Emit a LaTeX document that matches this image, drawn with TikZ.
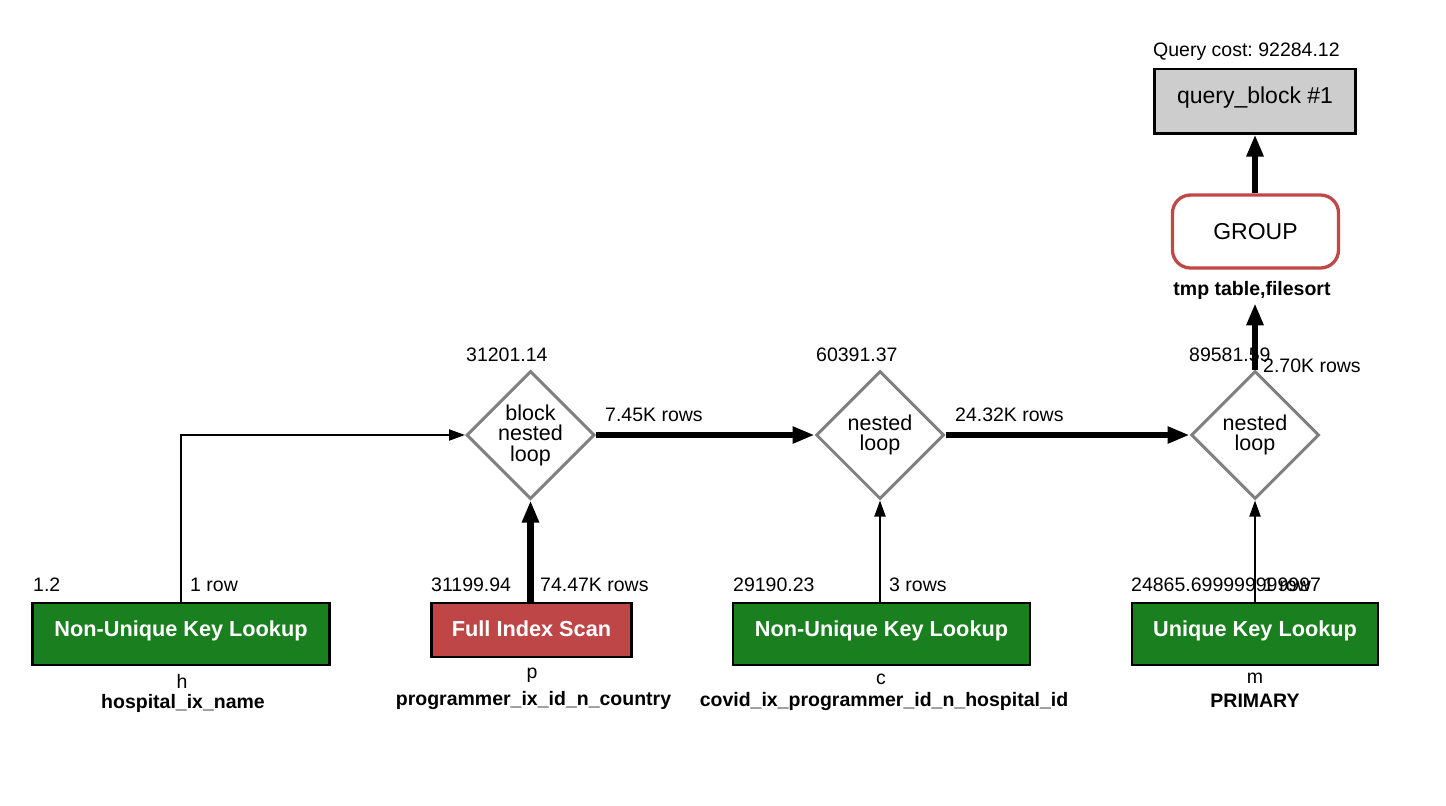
\documentclass[tikz,border=0pt]{standalone}
\usepackage{fontspec}
\setmainfont{Liberation Sans}
\usetikzlibrary{arrows.meta,shapes.geometric}
\frenchspacing

\definecolor{lookupgreen}{RGB}{26,127,31}
\definecolor{scanred}{RGB}{190,70,70}
\definecolor{groupred}{RGB}{192,72,72}
\definecolor{loopgray}{RGB}{128,128,128}
\definecolor{blockgray}{RGB}{205,205,205}

\begin{document}
\begin{tikzpicture}[x=1pt,y=-1pt,
  lbl/.style={font=\fontsize{19.5}{23}\selectfont, inner sep=0pt, anchor=base west},
  lblc/.style={font=\fontsize{19.5}{23}\selectfont, inner sep=0pt, anchor=base},
  lblb/.style={lblc, font=\fontsize{19.5}{23}\selectfont\bfseries},
  access/.style={draw=black, line width=2.5pt, text=white,
    font=\fontsize{21.7}{26}\selectfont\bfseries, text height=14pt, text depth=10pt},
  greenbox/.style={access, fill=lookupgreen, minimum width=297pt, minimum height=62pt},
  redbox/.style={access, fill=scanred, minimum width=200pt, minimum height=54pt,
    text height=16pt, text depth=2.6pt},
  loopnode/.style={diamond, draw=loopgray, line width=3pt, minimum width=128pt,
    minimum height=128pt, inner sep=0pt, align=center,
    font=\fontsize{21.5}{20.5}\selectfont},
  thinarrow/.style={line width=2pt, -{Triangle[length=16pt,width=11pt]}},
  thickarrow/.style={line width=6.5pt, -{Triangle[length=22pt,width=16pt]}}
]
\useasboundingbox (0,0) rectangle (1446,806);

% result block and grouping step
\node[draw=black, line width=2.7pt, fill=blockgray, minimum width=200.6pt,
  minimum height=64.3pt, font=\fontsize{23}{27}\selectfont,
  text height=14pt, text depth=10pt] (qb) at (1255,101) {query\_block \#1};
\node[lbl] (qcost) at (1153,56) {Query cost: 92284.12};

\node[draw=groupred, line width=3.3pt, fill=white, rounded corners=18pt,
  minimum width=166pt, minimum height=73pt, font=\fontsize{23}{27}\selectfont,
  text height=16pt, text depth=0.4pt] (grp) at (1255.5,231.5) {GROUP};
\node[lblb] (grpnote) at (1252,295) {tmp table,filesort};

% join operations
\node[loopnode] (d1) at (530.5,435) {block\\nested\\loop};
\node[loopnode] (d2) at (880,435) {nested\\loop};
\node[loopnode] (d3) at (1255,435) {nested\\loop};

\node[lbl] (cost1) at (466,361) {31201.14};
\node[lbl] (cost2) at (816,361) {60391.37};
\node[lbl] (cost3) at (1189,361) {89581.59};

% table access operations
\node[greenbox] (h) at (181,634) {Non-Unique Key Lookup};
\node[redbox] (p) at (531.5,630) {Full Index Scan};
\node[greenbox] (c) at (881.5,634) {Non-Unique Key Lookup};
\node[greenbox, minimum width=246pt] (m) at (1255,634) {Unique Key Lookup};

\node[lbl] (hcost) at (33,591) {1.2};
\node[lbl] (hrows) at (190,591) {1 row};
\node[lbl] (pcost) at (431,591) {31199.94};
\node[lbl] (prows) at (540,591) {74.47K rows};
\node[lbl] (ccost) at (733,591) {29190.23};
\node[lbl] (crows) at (889,591) {3 rows};
\node[lbl] (mcost) at (1131,591) {24865.699999999997};
\node[lbl] (mrows) at (1263,591) {1 row};

\node[lblc] (htab) at (182,688) {h};
\node[lblb] (hkey) at (183,708) {hospital\_ix\_name};
\node[lblc] (ptab) at (532,678) {p};
\node[lblb] (pkey) at (533.5,705) {programmer\_ix\_id\_n\_country};
\node[lblc] (ctab) at (881,684) {c};
\node[lblb] (ckey) at (884,706) {covid\_ix\_programmer\_id\_n\_hospital\_id};
\node[lblc] (mtab) at (1255,683) {m};
\node[lblb] (mkey) at (1255,707) {PRIMARY};

% row flow
\draw[thinarrow] (h.north) |- (d1.west);
\draw[thickarrow] (d1.south |- p.north) -- (d1.south);
\draw[thickarrow] (d1.east) -- (d2.west);
\draw[thinarrow] (d2.south |- c.north) -- (d2.south);
\draw[thickarrow] (d2.east) -- (d3.west);
\draw[thinarrow] (m.north) -- (d3.south);
\draw[thickarrow] (d3.north) -- ([yshift=-4pt]d3.north |- grpnote.south);
\draw[thickarrow] (grp.north -| qb.south) -- (qb.south);

\node[lbl] (rows1) at (605,421) {7.45K rows};
\node[lbl] (rows2) at (955,421) {24.32K rows};
\node[lbl] (rows3) at (1263,372) {2.70K rows};
\end{tikzpicture}
\end{document}
